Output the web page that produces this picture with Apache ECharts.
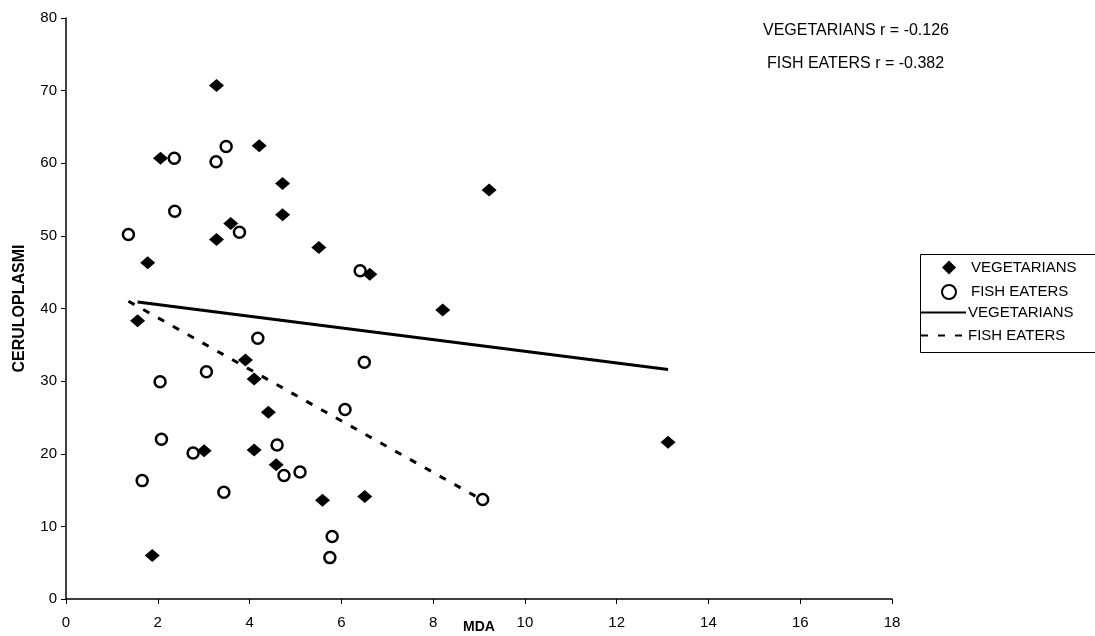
<!DOCTYPE html>
<html>
<head>
<meta charset="utf-8">
<title>Ceruloplasmin vs MDA</title>
<script src="https://cdn.jsdelivr.net/npm/echarts@6/dist/echarts.min.js"></script>
<style>
  html, body { margin: 0; padding: 0; background: #fff; }
  #chart { width: 1095px; height: 636px; }
</style>
</head>
<body>
<div id="chart"></div>
<script>
// vegetarians: MDA (x) and ceruloplasmin (y)
const vegMda = [3.28, 2.06, 4.21, 4.72, 4.72, 3.59, 3.28, 5.51, 1.78, 6.62, 9.22, 8.21,
  1.56, 3.91, 4.10, 4.41, 3.01, 4.10, 4.58, 5.59, 6.51, 1.88, 13.12]
const vegCer = [70.7, 60.7, 62.4, 57.2, 52.9, 51.7, 49.5, 48.4, 46.3, 44.7, 56.3, 39.8,
  38.3, 32.9, 30.3, 25.7, 20.4, 20.5, 18.5, 13.6, 14.1, 6.0, 21.6]

// fish eaters
const fishMda = [2.36, 3.27, 3.49, 2.37, 1.36, 3.78, 6.41, 4.18, 3.06, 2.05, 6.50, 6.08,
  2.08, 2.77, 4.60, 4.75, 5.10, 1.66, 3.44, 5.80, 5.75, 9.08]
const fishCer = [60.7, 60.2, 62.3, 53.4, 50.2, 50.5, 45.2, 35.9, 31.3, 29.9, 32.6, 26.1,
  22.0, 20.1, 21.2, 17.0, 17.5, 16.3, 14.7, 8.6, 5.7, 13.7]

// trend line end points
const vegTrendX = [1.56, 13.12]
const vegTrendY = [40.9, 31.6]
const fishTrendX = [1.36, 9.08]
const fishTrendY = [41.0, 13.6]

const xTicks = { min: 0, max: 18, step: 2 }
const yTicks = { min: 0, max: 80, step: 10 }

const notes = ['VEGETARIANS r = -0.126', 'FISH EATERS r = -0.382']

const pairs = (xs, ys) => xs.map((x, i) => [x, ys[i]])

const legendLabels = {
  vegPts: 'VEGETARIANS',
  fishPts: 'FISH EATERS',
  vegLine: 'VEGETARIANS',
  fishLine: 'FISH EATERS'
}

const font = 'Liberation Sans, Arial, sans-serif'

const chart = echarts.init(document.getElementById('chart'))

chart.setOption({
  animation: false,
  backgroundColor: '#fff',
  textStyle: { fontFamily: font, color: '#000' },
  grid: {
    left: 66,
    right: 203,
    top: 18,
    bottom: 37,
    outerBoundsMode: 'none'
  },
  legend: [
    {
      // marker entries
      orient: 'vertical',
      left: 941,
      top: 260,
      padding: 0,
      itemWidth: 14,
      itemHeight: 14,
      itemGap: 9,
      selectedMode: false,
      symbolKeepAspect: true,
      data: ['vegPts', 'fishPts'],
      formatter: (name) => legendLabels[name],
      textStyle: {
        fontFamily: font,
        fontSize: 15,
        color: '#000',
        padding: [0, 0, 0, 10]
      }
    },
    {
      // trend line entries
      orient: 'vertical',
      left: 920,
      top: 305,
      padding: 0,
      itemWidth: 45,
      itemHeight: 14,
      itemGap: 8,
      selectedMode: false,
      itemStyle: { opacity: 0 },
      data: ['vegLine', 'fishLine'],
      formatter: (name) => legendLabels[name],
      textStyle: {
        fontFamily: font,
        fontSize: 15,
        color: '#000',
        padding: [0, 0, 0, -3]
      }
    }
  ],
  xAxis: {
    type: 'value',
    min: xTicks.min,
    max: xTicks.max,
    interval: xTicks.step,
    name: 'MDA',
    nameLocation: 'middle',
    nameGap: 21,
    nameMoveOverlap: false,
    nameTextStyle: {
      fontFamily: font,
      fontSize: 14,
      fontWeight: 'bold',
      color: '#000'
    },
    axisLine: { lineStyle: { color: '#000', width: 1.5 } },
    axisTick: { show: true, length: 5, lineStyle: { color: '#000' } },
    axisLabel: { fontSize: 15, color: '#000', margin: 16 },
    splitLine: { show: false }
  },
  yAxis: {
    type: 'value',
    min: yTicks.min,
    max: yTicks.max,
    interval: yTicks.step,
    name: 'CERULOPLASMI',
    nameLocation: 'middle',
    nameGap: 38,
    nameRotate: 90,
    nameMoveOverlap: false,
    nameTextStyle: {
      fontFamily: font,
      fontSize: 16,
      fontWeight: 'bold',
      color: '#000'
    },
    axisLine: { show: true, lineStyle: { color: '#000', width: 1.5 } },
    axisTick: { show: true, length: 5, lineStyle: { color: '#000' } },
    axisLabel: { fontSize: 15, color: '#000', margin: 9 },
    splitLine: { show: false }
  },
  graphic: [
    {
      // legend frame
      type: 'rect',
      left: 918,
      top: 252,
      shape: { width: 175, height: 98 },
      style: { fill: 'none', stroke: '#000', lineWidth: 1 },
      z: 0
    },
    {
      type: 'text',
      left: 763,
      top: 23,
      style: { text: notes[0], fontFamily: font, fontSize: 16, fill: '#000' }
    },
    {
      type: 'text',
      left: 767,
      top: 56,
      style: { text: notes[1], fontFamily: font, fontSize: 16, fill: '#000' }
    }
  ],
  series: [
    {
      name: 'vegPts',
      type: 'scatter',
      symbol: 'diamond',
      symbolSize: [15, 13],
      itemStyle: { color: '#000', opacity: 1 },
      data: pairs(vegMda, vegCer),
      z: 3
    },
    {
      name: 'fishPts',
      type: 'scatter',
      symbol: 'circle',
      symbolSize: 11,
      itemStyle: { color: '#fff', borderColor: '#000', borderWidth: 2.5, opacity: 1 },
      data: pairs(fishMda, fishCer),
      z: 3
    },
    {
      name: 'vegLine',
      type: 'line',
      symbol: 'none',
      lineStyle: { color: '#000', width: 3 },
      itemStyle: { color: '#000' },
      data: pairs(vegTrendX, vegTrendY),
      z: 4
    },
    {
      name: 'fishLine',
      type: 'line',
      symbol: 'none',
      lineStyle: { color: '#000', width: 3, type: [7, 10] },
      itemStyle: { color: '#000' },
      data: pairs(fishTrendX, fishTrendY),
      z: 4
    }
  ]
})
</script>
</body>
</html>
